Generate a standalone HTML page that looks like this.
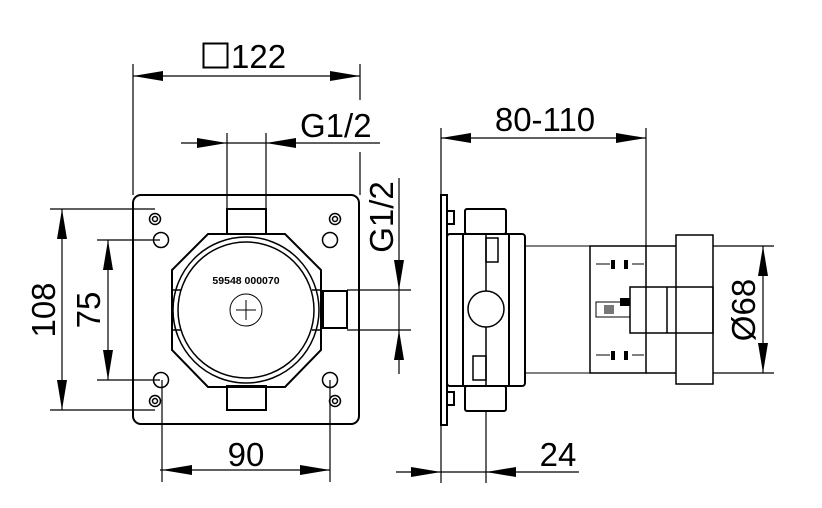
<!DOCTYPE html>
<html><head><style>html,body{margin:0;padding:0;background:#fff}svg{display:block}text{font-family:"Liberation Sans",Arial,sans-serif;fill:#000}</style></head>
<body>
<svg width="822" height="508" viewBox="0 0 822 508" xmlns="http://www.w3.org/2000/svg">
<defs><clipPath id="c"><rect x="173" y="200" width="147" height="220"/></clipPath></defs>
<g stroke="#000" stroke-width="1.2" fill="none">
<line x1="133" y1="64" x2="133" y2="195"/><line x1="360" y1="64" x2="360" y2="100"/><line x1="360" y1="152" x2="360" y2="195"/>
<line x1="133" y1="76" x2="360" y2="76"/>
<line x1="181" y1="143" x2="380" y2="143"/>
<line x1="227" y1="133" x2="227" y2="209"/><line x1="266" y1="133" x2="266" y2="209"/>
<line x1="399" y1="178" x2="399" y2="374"/>
<line x1="347" y1="290" x2="411" y2="290"/><line x1="347" y1="330" x2="411" y2="330"/>
<line x1="62" y1="209" x2="62" y2="410"/>
<line x1="50" y1="209" x2="155" y2="209"/><line x1="50" y1="410" x2="155" y2="410"/>
<line x1="108" y1="240" x2="108" y2="380"/>
<line x1="97" y1="240" x2="160" y2="240"/><line x1="97" y1="380" x2="160" y2="380"/>
<line x1="160" y1="470" x2="330" y2="470"/>
<line x1="162" y1="380" x2="162" y2="482"/><line x1="330" y1="380" x2="330" y2="482"/>
<line x1="441" y1="138" x2="646" y2="138"/>
<line x1="441" y1="128" x2="441" y2="195"/><line x1="646" y1="128" x2="646" y2="246"/>
<line x1="396" y1="472" x2="579" y2="472"/>
<line x1="441" y1="425" x2="441" y2="483"/><line x1="486" y1="411" x2="486" y2="483"/>
<line x1="763" y1="246" x2="763" y2="373"/>
<line x1="713" y1="246" x2="774" y2="246"/><line x1="713" y1="373" x2="774" y2="373"/>
<rect x="203.5" y="43.5" width="24" height="24" stroke-width="2"/>
</g>
<g fill="#000">
<polygon points="133,76 163,71 163,81"/><polygon points="360,76 330,71 330,81"/>
<polygon points="227,143 197,138 197,148"/><polygon points="266,143 296,138 296,148"/>
<polygon points="399,290 394,260 404,260"/><polygon points="399,330 394,360 404,360"/>
<polygon points="62,209 57,239 67,239"/><polygon points="62,410 57,380 67,380"/>
<polygon points="108,240 103,270 113,270"/><polygon points="108,380 103,350 113,350"/>
<polygon points="162,470 192,465 192,475"/><polygon points="330,470 300,465 300,475"/>
<polygon points="441,138 471,133 471,143"/><polygon points="646,138 616,133 616,143"/>
<polygon points="441,472 411,467 411,477"/><polygon points="486,472 516,467 516,477"/>
<polygon points="763,246 758,276 768,276"/><polygon points="763,373 758,343 768,343"/>
</g>
<g font-size="33">
<text x="231" y="68">122</text>
<text x="300" y="137">G1/2</text>
<text x="545" y="131" text-anchor="middle">80-110</text>
<text x="246" y="466" text-anchor="middle">90</text>
<text x="558" y="466" text-anchor="middle">24</text>
<text transform="translate(393,217) rotate(-90)" text-anchor="middle">G1/2</text>
<text transform="translate(55,310) rotate(-90)" text-anchor="middle">108</text>
<text transform="translate(100,310) rotate(-90)" text-anchor="middle">75</text>
<text transform="translate(755,310) rotate(-90)" text-anchor="middle">Ø68</text>
</g>
<g stroke="#000" stroke-width="2" fill="none">
<rect x="133" y="195" width="226" height="229" rx="8"/>
<rect x="227" y="209" width="39" height="25"/>
<rect x="227" y="386" width="39" height="24"/>
<rect x="323" y="291" width="24" height="37"/>
<path d="M208 234 L285 234 L321 270 L321 350 L285 387 L208 387 L172 350 L172 270 Z"/>
</g>
<g stroke="#000" stroke-width="1.5" fill="none">
<circle cx="246" cy="310" r="73" clip-path="url(#c)"/>
<circle cx="246" cy="310" r="68" clip-path="url(#c)"/>
<line x1="173" y1="290" x2="181" y2="290"/><line x1="312" y1="290" x2="320" y2="290"/>
<line x1="173" y1="330" x2="181" y2="330"/><line x1="312" y1="330" x2="320" y2="330"/>
<circle cx="246" cy="310" r="16" stroke-width="1"/>
<path d="M236 310h20M246 300v20" stroke-width="1"/>
<circle cx="155" cy="219" r="5.5"/><circle cx="155" cy="219" r="2.5"/>
<circle cx="335" cy="219" r="5.5"/><circle cx="335" cy="219" r="2.5"/>
<circle cx="155" cy="401" r="5.5"/><circle cx="155" cy="401" r="2.5"/>
<circle cx="335" cy="401" r="5.5"/><circle cx="335" cy="401" r="2.5"/>
<circle cx="161" cy="240" r="7.5"/><circle cx="330" cy="240" r="7.5"/>
<circle cx="161" cy="380" r="7.5"/><circle cx="330" cy="380" r="7.5"/>
</g>
<text x="246" y="284" text-anchor="middle" font-size="10.5" font-weight="bold">59548 000070</text>
<g stroke="#000" stroke-width="2" fill="none">
<rect x="441" y="195" width="6" height="230"/>
<rect x="447" y="211" width="7" height="13"/><rect x="447" y="392" width="7" height="13"/>
<rect x="465" y="209" width="41" height="25" rx="2"/>
<rect x="465" y="386" width="41" height="25" rx="2"/>
<rect x="447" y="234" width="78" height="152" rx="3"/>
<line x1="463" y1="234" x2="463" y2="386"/><line x1="509" y1="234" x2="509" y2="386"/>
<line x1="486" y1="234" x2="486" y2="291" stroke-width="1.5"/><line x1="486" y1="327" x2="486" y2="386" stroke-width="1.5"/>
<circle cx="486" cy="309" r="18" stroke-width="1.5"/>
<rect x="486" y="238" width="12" height="24" stroke-width="1.5"/>
<rect x="473" y="356" width="13" height="24" stroke-width="1.5"/>
<rect x="590" y="246" width="56" height="127" stroke-width="1.5"/>
<rect x="630" y="287" width="83" height="46" stroke-width="1.5"/>
<line x1="667" y1="287" x2="667" y2="333" stroke-width="1.5"/>
<rect x="676" y="235" width="37" height="149" stroke-width="1.5"/>
<line x1="646" y1="246" x2="676" y2="246" stroke-width="1.5"/>
<line x1="646" y1="373" x2="676" y2="373" stroke-width="1.5"/>
</g>
<g stroke="#000" stroke-width="1" fill="none">
<line x1="525" y1="246" x2="590" y2="246"/><line x1="525" y1="373" x2="590" y2="373"/>
<path d="M596 264h14M632 264h12M596 355h14M632 355h12"/>
<rect x="596" y="302" width="34" height="15"/>
</g>
<g fill="#000">
<rect x="611" y="260" width="4" height="9"/><rect x="624" y="260" width="4" height="9"/>
<rect x="611" y="351" width="4" height="9"/><rect x="624" y="351" width="4" height="9"/>
<rect x="604" y="305" width="10" height="9" fill="#777"/>
<rect x="620" y="298" width="10" height="8"/>
</g>
</svg>
</body></html>
